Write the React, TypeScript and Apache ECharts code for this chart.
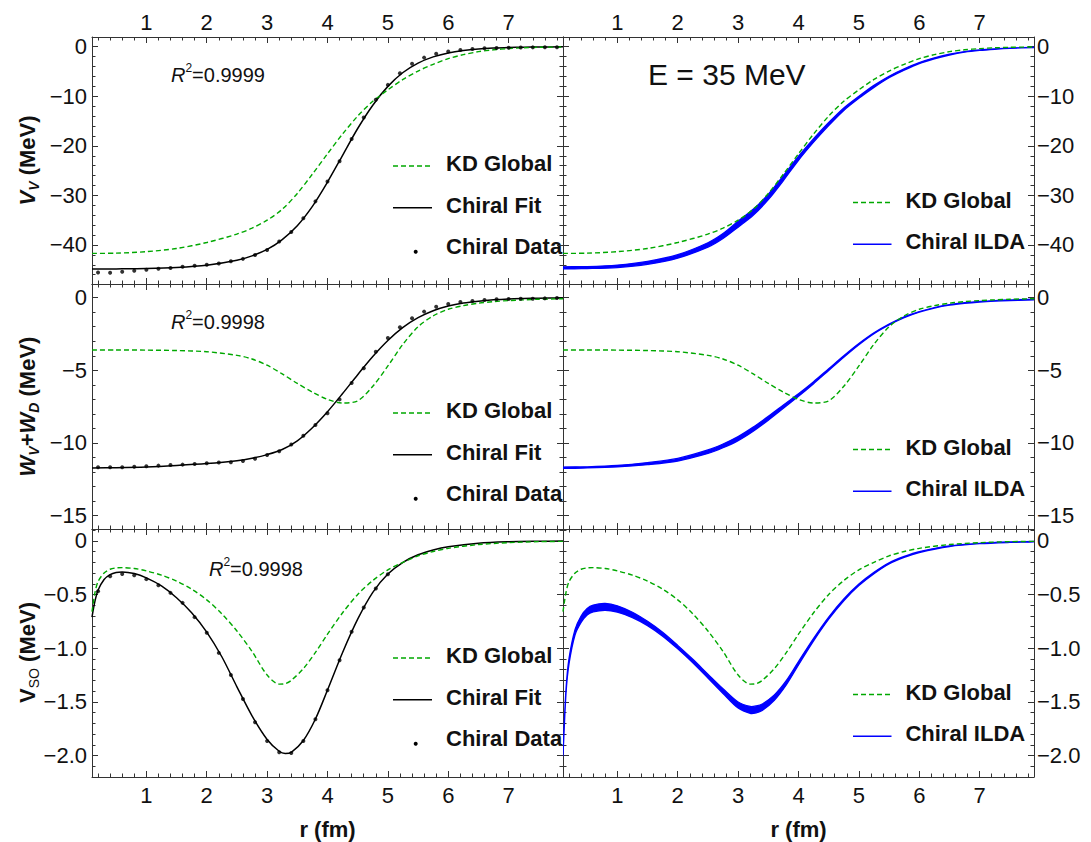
import React, { useEffect, useRef } from "react";
import * as echarts from "echarts";

// ---------------- data ----------------
// r grid (fm) for smooth curves of the upper two rows
const rCurve = [0.1, 0.5, 1.0, 1.5, 2.0, 2.5, 2.75, 3.0, 3.25, 3.5, 3.75, 4.0, 4.25, 4.5, 4.75, 5.0, 5.25, 5.5, 5.75, 6.0, 6.25, 6.5, 6.75, 7.0, 7.25, 7.5, 7.9];
// r grid of chiral data points
const rDots = [0.2, 0.4, 0.6, 0.8, 1.0, 1.2, 1.4, 1.6, 1.8, 2.0, 2.2, 2.4, 2.6, 2.8, 3.0, 3.2, 3.4, 3.6, 3.8, 4.0, 4.2, 4.4, 4.6, 4.8, 5.0, 5.2, 5.4, 5.6, 5.8, 6.0, 6.2, 6.4, 6.6, 6.8, 7.0, 7.2, 7.4, 7.6, 7.8];
const rDotsSO = [0.2, 0.4, 0.6, 0.8, 1.0, 1.2, 1.4, 1.6, 1.8, 2.0, 2.2, 2.4, 2.6, 2.8, 3.0, 3.2, 3.4, 3.6, 3.8, 4.0, 4.2, 4.4, 4.6, 4.8, 5.0];
// r grid for the spin-orbit row
const rSO = [0.1, 0.15, 0.2, 0.3, 0.4, 0.5, 0.6, 0.8, 1.0, 1.25, 1.5, 1.75, 2.0, 2.25, 2.5, 2.75, 3.0, 3.2, 3.3, 3.4, 3.6, 3.8, 4.0, 4.25, 4.5, 4.75, 5.0, 5.25, 5.5, 5.75, 6.0, 6.5, 7.0, 7.5, 7.9];

// V_V (MeV)
const vvKD = [-41.7, -41.65, -41.35, -40.7, -39.5, -37.8, -36.6, -35.0, -32.8, -29.6, -25.7, -21.6, -17.6, -14.0, -11.0, -8.7, -6.6, -4.9, -3.55, -2.4, -1.6, -1.0, -0.62, -0.38, -0.22, -0.12, -0.05];
const vvFit = [-44.85, -44.82, -44.75, -44.55, -44.1, -43.1, -42.2, -40.9, -38.9, -36.1, -32.2, -27.3, -21.9, -16.5, -11.8, -8.0, -5.2, -3.3, -2.05, -1.25, -0.76, -0.46, -0.28, -0.17, -0.1, -0.06, -0.03];
const vvDots = [-45.56, -45.6, -45.4, -45.2, -45.0, -44.8, -44.65, -44.4, -44.2, -44.0, -43.75, -43.3, -42.8, -42.0, -41.0, -39.3, -37.4, -34.6, -31.2, -27.2, -23.1, -18.6, -14.3, -10.7, -7.7, -5.35, -3.45, -2.2, -1.4, -0.95, -0.65, -0.45, -0.33, -0.26, -0.2, -0.15, -0.13, -0.12, -0.11];
const vvIldaLow = [-44.8, -44.75, -44.55, -43.9, -42.65, -40.45, -38.7, -36.4, -34.0, -30.85, -27.0, -22.9, -19.25, -15.9, -12.85, -10.4, -8.2, -6.25, -4.75, -3.4, -2.45, -1.68, -1.11, -0.75, -0.51, -0.33, -0.16];
const vvIldaHigh = [-44.4, -44.35, -44.05, -43.3, -41.95, -39.55, -37.7, -35.2, -32.8, -29.75, -26.0, -22.1, -18.55, -15.3, -12.35, -10.0, -7.8, -5.95, -4.45, -3.2, -2.25, -1.52, -0.99, -0.65, -0.43, -0.27, -0.12];

// W_V + W_D (MeV)
const wKD = [-3.6, -3.6, -3.61, -3.64, -3.72, -3.97, -4.22, -4.65, -5.25, -5.9, -6.5, -7.0, -7.25, -7.1, -6.1, -4.7, -3.2, -2.0, -1.25, -0.8, -0.55, -0.38, -0.27, -0.2, -0.15, -0.11, -0.07];
const wFit = [-11.72, -11.7, -11.65, -11.55, -11.42, -11.22, -11.05, -10.8, -10.45, -9.85, -8.95, -7.85, -6.6, -5.3, -4.05, -2.95, -2.05, -1.38, -0.9, -0.58, -0.37, -0.24, -0.15, -0.09, -0.06, -0.04, -0.02];
const wDots = [-11.67, -11.67, -11.67, -11.63, -11.6, -11.56, -11.51, -11.49, -11.44, -11.4, -11.35, -11.33, -11.24, -11.08, -10.83, -10.57, -10.11, -9.5, -8.76, -7.96, -7.0, -5.87, -4.86, -3.72, -2.78, -2.04, -1.42, -0.96, -0.62, -0.44, -0.3, -0.23, -0.16, -0.11, -0.09, -0.07, -0.07, -0.05, -0.02];
const wIldaLow = [-11.74, -11.72, -11.65, -11.49, -11.24, -10.72, -10.33, -9.84, -9.19, -8.43, -7.61, -6.79, -5.92, -5.01, -4.1, -3.24, -2.48, -1.88, -1.38, -1.0, -0.72, -0.52, -0.39, -0.3, -0.24, -0.2, -0.15];
const wIldaHigh = [-11.66, -11.64, -11.55, -11.35, -11.06, -10.48, -10.07, -9.56, -8.91, -8.17, -7.39, -6.61, -5.78, -4.89, -4.0, -3.16, -2.42, -1.82, -1.32, -0.96, -0.68, -0.48, -0.35, -0.26, -0.2, -0.16, -0.11];

// V_SO (MeV)
const soKD = [-0.66, -0.48, -0.38, -0.3, -0.265, -0.252, -0.25, -0.258, -0.28, -0.32, -0.375, -0.45, -0.55, -0.68, -0.84, -1.03, -1.25, -1.335, -1.33, -1.3, -1.19, -1.04, -0.87, -0.67, -0.5, -0.37, -0.27, -0.2, -0.14, -0.1, -0.07, -0.035, -0.017, -0.008, -0.005];
const soFit = [-0.71, -0.56, -0.46, -0.36, -0.315, -0.295, -0.29, -0.305, -0.345, -0.42, -0.53, -0.67, -0.85, -1.08, -1.36, -1.63, -1.85, -1.96, -1.98, -1.97, -1.86, -1.66, -1.39, -1.04, -0.73, -0.48, -0.31, -0.2, -0.13, -0.085, -0.055, -0.022, -0.009, -0.004, -0.002];
const soDots = [-0.47, -0.33, -0.31, -0.32, -0.357, -0.413, -0.485, -0.578, -0.711, -0.857, -1.044, -1.249, -1.473, -1.69, -1.864, -1.97, -1.976, -1.864, -1.662, -1.392, -1.112, -0.848, -0.621, -0.444, -0.311];
const soIldaLow = [-2.0, -1.42, -1.145, -0.875, -0.76, -0.69, -0.662, -0.647, -0.665, -0.715, -0.79, -0.888, -1.006, -1.136, -1.278, -1.422, -1.558, -1.607, -1.602, -1.58, -1.485, -1.34, -1.156, -0.932, -0.73, -0.558, -0.417, -0.306, -0.215, -0.154, -0.109, -0.053, -0.027, -0.015, -0.01];
const soIldaHigh = [-1.96, -1.38, -1.095, -0.825, -0.7, -0.63, -0.598, -0.583, -0.605, -0.665, -0.75, -0.852, -0.974, -1.104, -1.242, -1.378, -1.502, -1.543, -1.538, -1.52, -1.435, -1.3, -1.124, -0.908, -0.71, -0.542, -0.403, -0.294, -0.205, -0.146, -0.101, -0.047, -0.023, -0.011, -0.006];

// axis ranges / tick steps
const xRange = [0.1, 7.9];
const xStep = 1;
const yRanges = [[-47.87, 1.96], [-15.92, 0.94], [-2.2, 0.11]];
const ySteps = [10, 5, 0.5];
const r2Labels = ["=0.9999", "=0.9998", "=0.9998"];
const legendLeft = ["KD Global", "Chiral Fit", "Chiral Data"];
const legendRight = ["KD Global", "Chiral ILDA"];

// ---------------- layout & style ----------------
const FF = '"Liberation Sans", Arial, Helvetica, sans-serif';
const GREEN = "#00a800";
const BLUE = "#0000ff";
const FRAME = "#333333";
const TXT = "#111111";
const TICK_FONT = 22;
const COLS = [92, 563];
const COL_W = 471;
const ROWS = [
  { top: 37, h: 247 },
  { top: 284, h: 245 },
  { top: 529, h: 248 },
];

const pair = (xs: number[], ys: number[]) => xs.map((x, i) => [x, ys[i]]);
const isMult = (v: number, s: number) => Math.abs(v / s - Math.round(v / s)) < 1e-6;

function fmtY(v: number, step: number) {
  if (!isMult(v, step)) return "";
  if (Math.abs(v) < 1e-9) return "0";
  const a = Math.abs(v);
  const s = step < 1 ? a.toFixed(1) : String(Math.round(a));
  return (v < 0 ? "\u2212" : "") + s;
}

function makeXAxis(g: number, position: string, showLabel: boolean) {
  return {
    type: "value",
    gridIndex: g,
    position,
    min: xRange[0],
    max: xRange[1],
    splitNumber: 8,
    minInterval: xStep,
    maxInterval: xStep,
    axisLine: { show: true, onZero: false, lineStyle: { color: FRAME, width: 1 } },
    axisTick: { show: true, inside: true, length: 6, lineStyle: { color: FRAME, width: 1 } },
    minorTick: { show: true, splitNumber: 5, length: 3.5, lineStyle: { color: FRAME, width: 1 } },
    splitLine: { show: false },
    minorSplitLine: { show: false },
    axisLabel: {
      show: showLabel,
      margin: position === "bottom" ? 7 : 4,
      fontSize: TICK_FONT,
      fontFamily: FF,
      color: TXT,
      formatter: (v: number) => (isMult(v, xStep) ? String(Math.round(v)) : ""),
    },
  };
}

function makeYAxis(g: number, row: number, position: string, showLabel: boolean) {
  const step = ySteps[row];
  return {
    type: "value",
    gridIndex: g,
    position,
    min: yRanges[row][0],
    max: yRanges[row][1],
    splitNumber: row === 1 ? 3 : 5,
    minInterval: step,
    maxInterval: step,
    axisLine: { show: true, onZero: false, lineStyle: { color: FRAME, width: 1 } },
    axisTick: { show: true, inside: true, length: 6, lineStyle: { color: FRAME, width: 1 } },
    minorTick: { show: true, splitNumber: 5, length: 3.5, lineStyle: { color: FRAME, width: 1 } },
    splitLine: { show: false },
    minorSplitLine: { show: false },
    axisLabel: {
      show: showLabel,
      margin: position === "left" ? 5 : 3,
      fontSize: TICK_FONT,
      fontFamily: FF,
      color: TXT,
      formatter: (v: number) => fmtY(v, step),
    },
  };
}

function lineSeries(g: number, xs: number[], ys: number[], color: string, dashed: boolean, width: number, z: number) {
  return {
    type: "line",
    xAxisIndex: 2 * g,
    yAxisIndex: 2 * g,
    data: pair(xs, ys),
    symbol: "none",
    showSymbol: false,
    smooth: 0.3,
    clip: true,
    silent: true,
    z,
    lineStyle: { color, width, type: dashed ? [5, 3] : "solid" },
  };
}

function dotSeries(g: number, xs: number[], ys: number[]) {
  return {
    type: "scatter",
    xAxisIndex: 2 * g,
    yAxisIndex: 2 * g,
    data: pair(xs, ys),
    symbol: "circle",
    symbolSize: 4,
    silent: true,
    z: 5,
    itemStyle: { color: "#000" },
  };
}

function bandSeries(g: number, xs: number[], low: number[], high: number[]) {
  return {
    type: "custom",
    coordinateSystem: "cartesian2d",
    xAxisIndex: 2 * g,
    yAxisIndex: 2 * g,
    data: [[xs[0], low[0]]],
    clip: true,
    silent: true,
    z: 3,
    renderItem: (_params: any, api: any) => {
      const pts: number[][] = [];
      for (let i = 0; i < xs.length; i++) pts.push(api.coord([xs[i], high[i]]));
      for (let i = xs.length - 1; i >= 0; i--) pts.push(api.coord([xs[i], low[i]]));
      return {
        type: "polygon",
        shape: { points: pts, smooth: 0.3 },
        style: { fill: BLUE, stroke: BLUE, lineWidth: 1.3 },
      };
    },
  };
}

function txt(x: number, y: number, text: string, size: number, bold: boolean, align = "left", extra: any = {}) {
  return {
    type: "text",
    x,
    y,
    silent: true,
    ...extra,
    style: {
      text,
      fill: TXT,
      fontSize: size,
      fontWeight: bold ? "bold" : "normal",
      fontFamily: FF,
      align,
      verticalAlign: "middle",
    },
  };
}

function richTxt(x: number, y: number, text: string, rich: any, align = "center", extra: any = {}) {
  return {
    type: "text",
    x,
    y,
    silent: true,
    ...extra,
    style: { text, rich, align, verticalAlign: "middle", fill: TXT, fontFamily: FF },
  };
}

function buildOption() {
  const grids: any[] = [];
  const xAxes: any[] = [];
  const yAxes: any[] = [];
  for (let row = 0; row < 3; row++) {
    for (let col = 0; col < 2; col++) {
      const g = row * 2 + col;
      grids.push({ left: COLS[col], top: ROWS[row].top, width: COL_W, height: ROWS[row].h, containLabel: false });
      xAxes.push(makeXAxis(g, "bottom", row === 2));
      xAxes.push(makeXAxis(g, "top", row === 0));
      yAxes.push(makeYAxis(g, row, "left", col === 0));
      yAxes.push(makeYAxis(g, row, "right", col === 1));
    }
  }

  const series: any[] = [
    // row 0
    lineSeries(0, rCurve, vvFit, "#000", false, 1.5, 2),
    lineSeries(0, rCurve, vvKD, GREEN, true, 1.4, 4),
    dotSeries(0, rDots, vvDots),
    bandSeries(1, rCurve, vvIldaLow, vvIldaHigh),
    lineSeries(1, rCurve, vvKD, GREEN, true, 1.4, 4),
    // row 1
    lineSeries(2, rCurve, wFit, "#000", false, 1.5, 2),
    lineSeries(2, rCurve, wKD, GREEN, true, 1.4, 4),
    dotSeries(2, rDots, wDots),
    bandSeries(3, rCurve, wIldaLow, wIldaHigh),
    lineSeries(3, rCurve, wKD, GREEN, true, 1.4, 4),
    // row 2
    lineSeries(4, rSO, soFit, "#000", false, 1.5, 2),
    lineSeries(4, rSO, soKD, GREEN, true, 1.4, 4),
    dotSeries(4, rDotsSO, soDots),
    bandSeries(5, rSO, soIldaLow, soIldaHigh),
    lineSeries(5, rSO, soKD, GREEN, true, 1.4, 4),
  ];

  const els: any[] = [];
  // legends
  for (let row = 0; row < 3; row++) {
    const top = ROWS[row].top;
    const xl = COLS[0];
    els.push({ type: "line", silent: true, shape: { x1: xl + 301, y1: top + 129, x2: xl + 340, y2: top + 129 }, style: { stroke: GREEN, lineWidth: 1.4, lineDash: [5, 3] } });
    els.push(txt(xl + 354, top + 126.3, legendLeft[0], 22, true));
    els.push({ type: "line", silent: true, shape: { x1: xl + 301, y1: top + 170.8, x2: xl + 340, y2: top + 170.8 }, style: { stroke: "#000", lineWidth: 1.5 } });
    els.push(txt(xl + 354, top + 168, legendLeft[1], 22, true));
    els.push({ type: "circle", silent: true, shape: { cx: xl + 323.7, cy: top + 214.8, r: 2 }, style: { fill: "#000" } });
    els.push(txt(xl + 354, top + 209.6, legendLeft[2], 22, true));

    const xr = COLS[1];
    els.push({ type: "line", silent: true, shape: { x1: xr + 290, y1: top + 165.5, x2: xr + 328.5, y2: top + 165.5 }, style: { stroke: GREEN, lineWidth: 1.4, lineDash: [5, 3] } });
    els.push(txt(xr + 342.4, top + 163, legendRight[0], 22, true));
    els.push({ type: "line", silent: true, shape: { x1: xr + 290, y1: top + 207.3, x2: xr + 328.5, y2: top + 207.3 }, style: { stroke: BLUE, lineWidth: 1.6 } });
    els.push(txt(xr + 342.4, top + 204.4, legendRight[1], 22, true));
  }

  // R^2 annotations
  const r2Rich = {
    i: { fontStyle: "italic", fontSize: 20, fontFamily: FF, fill: TXT, lineHeight: 26 },
    s: { fontSize: 12, fontFamily: FF, fill: TXT, verticalAlign: "top" },
    n: { fontSize: 20, fontFamily: FF, fill: TXT, lineHeight: 26 },
  };
  const r2Pos = [[171, 75], [171, 321.7], [209, 568.8]];
  for (let row = 0; row < 3; row++) {
    els.push(richTxt(r2Pos[row][0], r2Pos[row][1], "{i|R}{s|2}{n|" + r2Labels[row] + "}", r2Rich, "left"));
  }
  // energy label
  els.push(txt(648, 74.5, "E = 35 MeV", 30, false));

  // x-axis titles
  els.push(txt(327.5, 829, "r (fm)", 22, true, "center"));
  els.push(txt(798.5, 829, "r (fm)", 22, true, "center"));

  // y-axis titles (rotated)
  const yRich = {
    vi: { fontStyle: "italic", fontWeight: "bold", fontSize: 22, fontFamily: FF, fill: TXT, lineHeight: 28 },
    v: { fontWeight: "bold", fontSize: 22, fontFamily: FF, fill: TXT, lineHeight: 28 },
    sub: { fontStyle: "italic", fontWeight: "bold", fontSize: 14, fontFamily: FF, fill: TXT, verticalAlign: "bottom" },
    subn: { fontSize: 14, fontFamily: FF, fill: TXT, verticalAlign: "bottom" },
    n: { fontWeight: "bold", fontSize: 22, fontFamily: FF, fill: TXT, lineHeight: 28 },
  };
  const rot = { rotation: Math.PI / 2 };
  els.push(richTxt(27, 160.5, "{vi|V}{sub|V}{n| (MeV)}", yRich, "center", rot));
  els.push(richTxt(27, 406.5, "{vi|W}{sub|V}{n|+}{vi|W}{sub|D}{n| (MeV)}", yRich, "center", rot));
  els.push(richTxt(27, 652.5, "{v|V}{subn|SO}{n| (MeV)}", yRich, "center", rot));

  return {
    animation: false,
    backgroundColor: "#ffffff",
    grid: grids,
    xAxis: xAxes,
    yAxis: yAxes,
    series,
    graphic: { elements: els },
  };
}

export default function App() {
  const ref = useRef<HTMLDivElement>(null);
  useEffect(() => {
    const chart = echarts.init(ref.current as HTMLDivElement, null, { renderer: "svg" });
    chart.setOption(buildOption() as any);
    return () => chart.dispose();
  }, []);
  return (
    <div
      ref={ref}
      style={{ position: "fixed", left: 0, top: 0, width: 1091, height: 842, background: "#fff" }}
    />
  );
}
